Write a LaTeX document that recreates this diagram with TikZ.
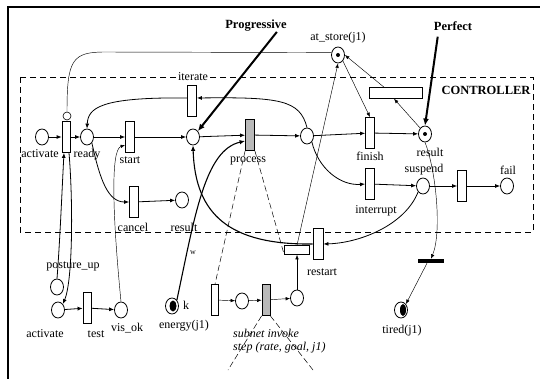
\documentclass[tikz,border=0pt]{standalone}
\usepackage{fontspec}
\setmainfont{Liberation Serif}
\usetikzlibrary{shapes.geometric,arrows.meta}
\begin{document}
\begin{tikzpicture}[x=1pt,y=-1pt,
  place/.style={ellipse,draw,line width=0.8pt,minimum width=13pt,minimum height=16pt,inner sep=0pt,fill=white},
  trans/.style={rectangle,draw,line width=0.8pt,minimum width=9pt,minimum height=31pt,inner sep=0pt,fill=white},
  htrans/.style={trans,fill=gray!55},
  lbl/.style={font=\fontsize{12}{13}\selectfont,inner sep=0pt},
  blbl/.style={font=\fontsize{12.5}{13}\selectfont\bfseries,inner sep=0pt},
  ilbl/.style={font=\fontsize{12}{13}\selectfont\itshape,inner sep=0pt,anchor=west},
  arc/.style={line width=0.8pt,-{Latex[length=5pt,width=4pt]}},
  thickarc/.style={line width=1.1pt,-{Latex[length=5.5pt,width=4.5pt]}},
  thinarc/.style={line width=0.45pt,-{Latex[length=4.5pt,width=3.5pt]}},
  thinline/.style={line width=0.45pt},
  bigarrow/.style={line width=2pt,-{Latex[length=7pt,width=6pt]}},
  zoomline/.style={line width=0.5pt,dash pattern=on 6pt off 3pt},
  token/.style={circle,fill=black,inner sep=0pt,minimum size=4pt},
]
\useasboundingbox (0,0) rectangle (540,379);
% frame and controller box
\draw[line width=1.2pt] (8,379) -- (8,7) -- (540,7);
\draw[line width=0.6pt,dash pattern=on 6pt off 4pt] (20,77) rectangle (533,232);

% nodes
\node[place] (act) at (42,137) {};
\node[trans,minimum width=8pt] (t1) at (66,137) {};
\node[circle,draw,line width=0.6pt,minimum size=8pt,inner sep=0pt] (sc) at (67,116) {};
\node[place] (ready) at (87,137) {};
\node[trans] (start) at (130,137) {};
\node[place] (p1) at (193,137) {};
\node[trans] (iterate) at (192,101) {};
\node[htrans] (process) at (250,135) {};
\node[place] (p2) at (307,136) {};
\node[trans] (finish) at (370,133) {};
\node[place] (result) at (425,134) {};
\node[token] (tokres) at (425,134) {};
\node[trans] (interrupt) at (370,184) {};
\node[place] (suspend) at (423,186) {};
\node[trans] (tfail) at (462,186) {};
\node[place] (fail) at (507,186) {};
\node[trans] (cancel) at (134,202) {};
\node[place] (res2) at (182,200) {};
\node[place] (atstore) at (338,55) {};
\node[token] (tokat) at (338,55) {};
\node[rectangle,draw,line width=0.6pt,minimum width=53pt,minimum height=11pt,inner sep=0pt] (hrect) at (396,93) {};
\node[trans,minimum width=10pt] (restart) at (318,244) {};
\node[rectangle,draw,line width=0.6pt,minimum width=25pt,minimum height=9pt,inner sep=0pt,fill=white] (rsmall) at (297,250) {};
\node[place] (posture) at (57,287) {};
\node[place] (act2) at (58,310) {};
\node[trans,minimum width=8pt] (test) at (87,308) {};
\node[place] (visok) at (121,310) {};
\node[place] (energy) at (172,306) {};
\node[ellipse,fill=black,minimum width=7pt,minimum height=11pt,inner sep=0pt] (tokenergy) at (173,306) {};
\node[trans,minimum width=7pt] (sub1) at (215,300) {};
\node[place] (subp1) at (242,301) {};
\node[htrans,minimum width=8pt] (sub2) at (266,300) {};
\node[place] (subp2) at (297,298) {};
\node[rectangle,fill=black,minimum width=26pt,minimum height=4pt,inner sep=0pt] (bar) at (431,261) {};
\node[place] (tired) at (401,310) {};
\node[ellipse,fill=black,minimum width=6pt,minimum height=12pt,inner sep=0pt] (toktired) at (403,310) {};

% labels
\node[lbl] (lact) at (40,154) {activate};
\node[lbl] (lready) at (87,155) {ready};
\node[lbl] (lstart) at (130,160) {start};
\node[lbl,fill=white,inner sep=1pt] (literate) at (193,77) {iterate};
\node[lbl] (lprocess) at (248,161) {process};
\node[lbl] (lfinish) at (370,156) {finish};
\node[lbl] (lresult) at (430,152) {result};
\node[lbl] (lsuspend) at (424,170) {suspend};
\node[lbl] (lfail) at (508,170) {fail};
\node[lbl] (linterrupt) at (376,211) {interrupt};
\node[lbl] (lcancel) at (133,227) {cancel};
\node[lbl] (lres2) at (184,227) {result};
\node[lbl] (latstore) at (338,38) {at\_store(j1)};
\node[blbl] (controller) at (486,90) {CONTROLLER};
\node[blbl] (prog) at (256,26) {Progressive};
\node[blbl] (perf) at (453,26) {Perfect};
\node[lbl] (lrestart) at (322,272) {restart};
\node[lbl] (lposture) at (73,266) {posture\_up};
\node[lbl] (lact2) at (45,334) {activate};
\node[lbl] (ltest) at (96,334) {test};
\node[lbl] (lvisok) at (127,328) {vis\_ok};
\node[lbl] (lenergy) at (184,326) {energy(j1)};
\node[lbl] (lk) at (186,305) {k};
\node[font=\fontsize{8}{9}\selectfont,inner sep=0pt] (lw) at (193,253) {w};
\node[ilbl] (lsub1) at (233,333) {subnet invoke};
\node[ilbl] (lsub2) at (233,348) {step (rate, goal, j1)};
\node[lbl] (ltired) at (402,331) {tired(j1)};

% main flow
\draw[arc] (act) -- (t1);
\draw[arc] (t1) -- (ready);
\draw[arc] (ready) -- (start);
\draw[arc] (start) -- (p1);
\draw[arc] (p1) -- (process);
\draw[arc] (process) -- (p2);
\draw[arc] (p2) -- (finish);
\draw[arc] (finish) -- (result);
\draw[arc] (interrupt) -- (suspend);
\draw[arc] (suspend) -- (tfail);
\draw[arc] (tfail) -- (fail);
\draw[arc] (cancel) -- (res2);
\draw[arc] (act2) -- (test);
\draw[arc] (test) -- (visok);

% curved arcs
\draw[arc] (p2.north) .. controls (300,100) and (280,97) .. ([yshift=3pt]iterate.east);
\draw[arc] ([yshift=3pt]iterate.west) .. controls (100,97) and (88,108) .. (ready.north);
\draw[arc] (p2.south east) .. controls (318,168) and (340,186) .. (interrupt.west);
\draw[arc] (ready.south east) .. controls (100,180) and (108,202) .. (cancel.west);
\draw[thinarc] (visok.north) .. controls (113,220) and (110,150) .. ([yshift=-8pt]start.west);
\draw[arc] (posture.north) .. controls (60,240) and (62,190) .. ([xshift=-2pt]t1.south);
\draw[arc] ([xshift=3pt]t1.south) .. controls (73,200) and (73,280) .. (act2.north east);
\draw[thickarc] (energy.north east) .. controls (195,215) and (205,150) .. ([yshift=-6pt]process.west);
\draw[thickarc] (restart.west) .. controls (230,245) and (195,215) .. (p1.south);
\draw[arc] (suspend.south west) .. controls (405,225) and (360,243) .. (restart.east);
\draw[thinarc] (result.south) .. controls (436,170) and (442,232) .. (bar.north);
\draw[thinarc] ([xshift=-4pt]bar.south) -- (tired.north east);

% at_store arcs
\draw[thinline] (sc.north) .. controls (67,60) and (72,52) .. (105,52) -- (atstore.160);
\draw[thinarc] (atstore.south east) -- (finish.north);
\draw[thinarc] (rsmall.north) -- (atstore.south);
\draw[thinarc] ([xshift=-12pt]hrect.north) -- (atstore.east);
\draw[thinarc] (result.north west) -- ([xshift=-2pt]hrect.south);

% subnet
\draw[thinarc] (sub1) -- (subp1);
\draw[thinarc] (subp1) -- (sub2);
\draw[thinarc] (sub2) -- (subp2);
\draw[thinarc] (subp2.north) -- (rsmall.south);
\draw[zoomline] (process.south west) -- (sub1.north);
\draw[zoomline] (process.south east) -- (rsmall.south west);
\coordinate (d1) at (228,370);
\coordinate (d2) at (313,370);
\draw[zoomline] (sub2.south west) -- (d1);
\draw[zoomline] (sub2.south east) -- (d2);

% annotation arrows
\draw[bigarrow] ([xshift=-10pt]prog.south east) -- (p1.north east);
\draw[bigarrow] ([xshift=4pt,yshift=-6pt]perf.south west) -- (result.north);
\end{tikzpicture}
\end{document}
